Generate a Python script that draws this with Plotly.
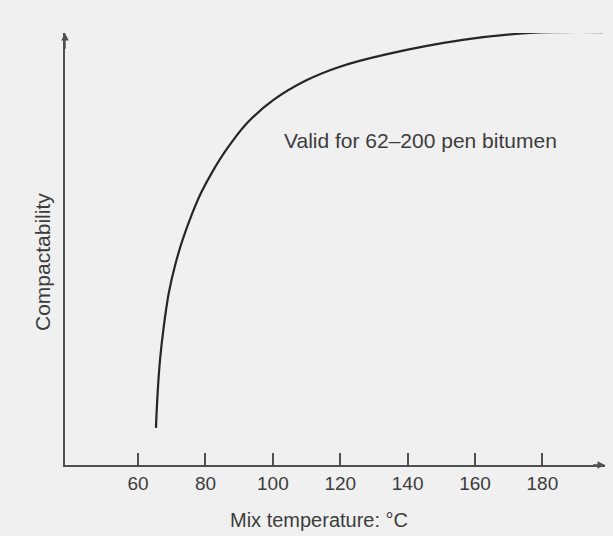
import plotly.graph_objects as go

# Data (compactability in arbitrary relative units)
mix_temperature = [65.3, 65.8, 66.5, 67.6, 69.1, 71.0, 73.2, 75.9, 78.7, 82.0, 86.3, 92.3,
                   100.2, 110.1, 119.9, 133.3, 156.4, 176.3, 198.0]
compactability = [8.6, 16.7, 24.3, 31.9, 39.8, 46.3, 52.1, 57.9, 63.0, 67.8, 73.1, 79.1,
                  84.5, 89.1, 92.2, 95.0, 98.4, 100.0, 100.2]
tick_values = [60, 80, 100, 120, 140, 160, 180]
tick_labels = ["60", "80", "100", "120", "140", "160", "180"]

X_RANGE = [38.3, 198.6]
Y_RANGE = [0, 100]
BG = "#f0f0f0"
INK = "#3c3c3c"
AXIS = "#505050"
FONT = "Liberation Sans, Arial, sans-serif"

fig = go.Figure()
fig.add_trace(go.Scatter(
    x=mix_temperature, y=compactability, mode="lines",
    line=dict(color="#262626", width=2.2, shape="spline", smoothing=1.0),
    cliponaxis=False, showlegend=False, hoverinfo="skip",
))

fig.update_layout(
    width=613, height=536,
    margin=dict(l=65, r=8, t=33, b=71),
    paper_bgcolor=BG, plot_bgcolor=BG,
    font=dict(family=FONT, color=INK, size=19),
    xaxis=dict(
        range=X_RANGE, showgrid=False, zeroline=False,
        showline=True, linecolor=AXIS, linewidth=1.5,
        ticks="inside", ticklen=12, tickwidth=1.5, tickcolor=AXIS,
        tickvals=tick_values, ticktext=tick_labels,
        tickfont=dict(size=19, color=INK, family=FONT),
        ticklabelstandoff=0,
    ),
    yaxis=dict(
        range=Y_RANGE, showgrid=False, zeroline=False,
        showline=True, linecolor=AXIS, linewidth=1.5,
        showticklabels=False, ticks="",
    ),
    annotations=[
        dict(x=X_RANGE[1], y=0, ax=X_RANGE[1] - 4, ay=0, xref="x", yref="y",
             axref="x", ayref="y", showarrow=True, arrowhead=2, arrowsize=1,
             arrowwidth=1.5, arrowcolor=AXIS, text=""),
        dict(x=X_RANGE[0], y=Y_RANGE[1], ax=X_RANGE[0], ay=Y_RANGE[1] - 4,
             xref="x", yref="y", axref="x", ayref="y", showarrow=True,
             arrowhead=2, arrowsize=1, arrowwidth=1.5, arrowcolor=AXIS, text=""),
        dict(x=143.7, y=75.2, xref="x", yref="y", text="Valid for 62\u2013200 pen bitumen",
             showarrow=False, font=dict(size=21, color=INK, family=FONT)),
        dict(x=0.47, y=-0.127, xref="paper", yref="paper", text="Mix temperature: \u00b0C",
             showarrow=False, font=dict(size=20, color=INK, family=FONT),
             xanchor="center", yanchor="middle"),
        dict(x=-0.0407, y=0.47, xref="paper", yref="paper", text="Compactability",
             textangle=-90, showarrow=False, font=dict(size=21, color=INK, family=FONT),
             xanchor="center", yanchor="middle"),
    ],
)

fig.write_html("out.html", config={"displayModeBar": False},
               post_script="document.body.style.margin='0';")
